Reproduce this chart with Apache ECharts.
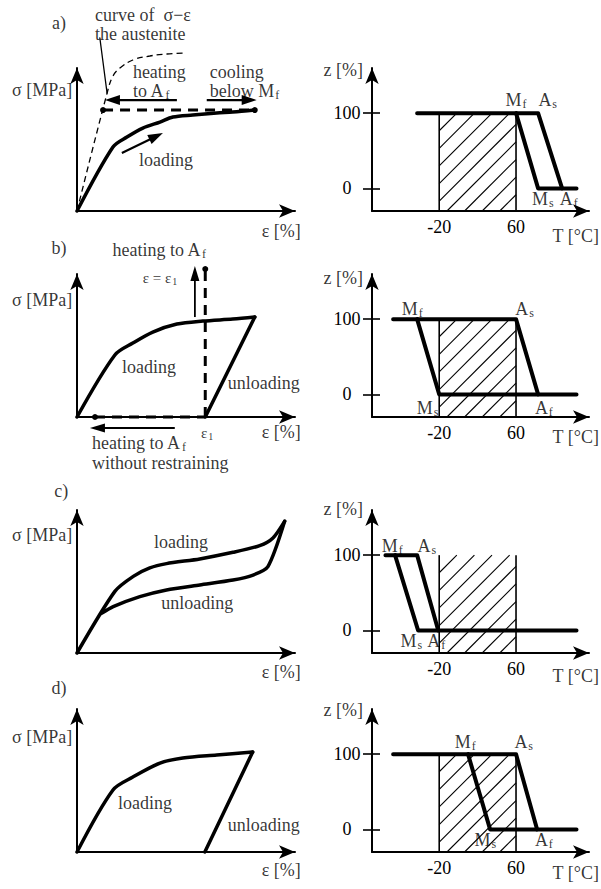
<!DOCTYPE html>
<html>
<head>
<meta charset="utf-8">
<script src="https://cdn.jsdelivr.net/npm/echarts@6/dist/echarts.min.js"></script>
<style>html,body{margin:0;padding:0;background:#fff}#c{width:601px;height:889px}</style>
</head>
<body>
<div id="c"></div>
<script>
// ===================== DATA =====================
// Left panels: strain ε (x, 0..103 arbitrary units) vs stress σ (y, 0..100 arbitrary units)
// a)
const austeniteA = [[0,0],[14.6,84.6],[17.0,94.4],[20.3,100],[26.4,105.6],[34.4,108.4],[42.5,109.8],[50.9,110.5]];
const loadingA   = [[0,0],[17.0,44.8],[23.6,51.7],[31.1,58.0],[39.2,62.2],[45.3,65.7],[54.7,67.1],[66.0,68.5],[73.6,69.2],[84.0,70.6]];
const plateauA   = [[12.3,70.6],[84.0,70.6]];
const leaderA    = [[10.8,121],[14.2,82.5]];
const arrowsA    = [[[21.2,40.6],[40.6,54.5]], [[47.2,77.6],[13.2,77.6]], [[61.3,77.6],[84.9,77.6]]];
// b)
const loadingB   = [[0,0],[17.9,43.4],[26.4,51.7],[35.8,59.4],[47.2,65.0],[59.4,67.1],[73.6,68.5],[84.0,69.9]];
const unloadingB = [[84.0,69.9],[60.6,0]];
const restrainB  = [[60.6,0],[60.6,103.5]];
const freeB      = [[8.5,0],[60.6,0]];
const arrowsB    = [[[55.7,69.9],[55.7,105.6]], [[46.2,-7.7],[6.1,-7.7]]];
// c)
const loadingC   = [[0,0],[17.9,43.1],[26.6,53.6],[34.4,59.5],[42.3,62.5],[58.0,65.8],[73.7,70.4],[86.3,75.1],[92.6,80.5],[98.1,92.1]];
const unloadingC = [[98.1,92.1],[90.2,60.4],[83.2,54.5],[73.7,51.0],[58.0,47.6],[42.3,44.1],[29.7,39.4],[17.1,32.4],[11.6,27.7]];
// d)
const loadingD   = [[0,0],[17.0,43.4],[26.4,52.4],[39.2,62.2],[50.0,65.7],[66.0,67.8],[83.0,69.9]];
const unloadingD = [[83.0,69.9],[60.4,0]];

// Right panels: temperature T [°C] vs martensite fraction z [%]
const tTicks = [-20, 60];
const zTicks = [0, 100];
const hatchT = [-20, 60];
// [start, Mf, As, Ms, Af, end] in °C
const tempsA = [-43, 60, 83, 83, 108, 123];
const tempsB = [-68, -43, 60, -20, 83, 123];
const tempsC = [-76, -66, -43, -42, -21, 123];
const tempsD = [-68, 10, 60, 33, 82, 123];

// Text annotations: [text, x, y, align, fontSize, lineHeight]
const notesA = [
  ['a)', -8.5, 131.5, 'c'],
  ['curve of  σ−ε\nthe austenite', 8.5, 130.1, 'l', 18, 19],
  ['heating\nto A{s|f}', 26.4, 90.9, 'l', 18, 19],
  ['cooling\nbelow M{s|f}', 62.7, 90.9, 'l', 18, 19],
  ['σ [MPa]', -16.5, 84.6, 'c'],
  ['loading', 42, 35.7, 'c'],
  ['ε [%]', 87.3, -14, 'l']
];
const notesB = [
  ['b)', -8.5, 118.2, 'c'],
  ['heating to A{s|f}', 38.7, 116.8, 'c'],
  ['ε = ε{t|1}', 39.2, 97.2, 'c', 15],
  ['σ [MPa]', -16.5, 81.8, 'c'],
  ['loading', 34, 35, 'c'],
  ['unloading', 71.2, 23.8, 'l'],
  ['ε{t|1}', 61.5, -11.2, 'c', 15],
  ['ε [%]', 87.3, -10.5, 'l'],
  ['heating to A{s|f}\nwithout restraining', 7.1, -25.2, 'l', 18, 20]
];
const notesC = [
  ['c)', -7.5, 113.3, 'c'],
  ['σ [MPa]', -16.5, 82.5, 'c'],
  ['loading', 49.1, 77.6, 'c'],
  ['unloading', 56.8, 35.0, 'c'],
  ['ε [%]', 87.3, -13.3, 'l']
];
const notesD = [
  ['d)', -8.5, 114.7, 'c'],
  ['σ [MPa]', -16.5, 80.4, 'c'],
  ['loading', 32.1, 34.3, 'c'],
  ['unloading', 71.2, 18.9, 'l'],
  ['ε [%]', 87.3, -12.6, 'l']
];
const notesRA = [['z [%]', -120, 157, 'c'], ['M{s|f}', 60, 117, 'c'], ['A{s|s}', 93, 117, 'c'], ['M{s|s}', 88, -14, 'c'], ['A{s|f}', 115, -14, 'c'], ['T [°C]', 98, -63, 'l']];
const notesRB = [['z [%]', -120, 155, 'c'], ['M{s|f}', -48, 113.5, 'c'], ['A{s|s}', 69, 113.5, 'c'], ['M{s|s}', -32, -18, 'c'], ['A{s|f}', 89, -18, 'c'], ['T [°C]', 98, -56, 'l']];
const notesRC = [['z [%]', -120, 161, 'c'], ['M{s|f}', -69, 112, 'c'], ['A{s|s}', -33, 112, 'c'], ['M{s|s}', -49, -14, 'c'], ['A{s|f}', -23, -14, 'c'], ['T [°C]', 98, -61, 'l']];
const notesRD = [['z [%]', -120, 159, 'c'], ['M{s|f}', 7, 116, 'c'], ['A{s|s}', 68, 116, 'c'], ['M{s|s}', 28, -14, 'c'], ['A{s|f}', 89, -14, 'c'], ['T [°C]', 98, -58, 'l']];

// ===================== LAYOUT / STYLE =====================
const FONT = "'Liberation Serif', 'DejaVu Serif', serif";
const BLACK = '#000';
const origins = [211, 417, 653, 852];
const AX_H = 143;
const Z_MIN = -30, Z_MAX = 160, T_MIN = -90, T_MAX = 136;
const rich = {
  s: {fontFamily: FONT, fontSize: 12, color: BLACK, padding: [8, 0, 0, 1]},
  t: {fontFamily: FONT, fontSize: 10, color: BLACK, padding: [6, 0, 0, 1]}
};
const axisLine = {show: true, onZero: false, symbol: ['none', 'arrow'], symbolSize: [10, 16], lineStyle: {color: BLACK, width: 2}};
const labelFont = {fontFamily: FONT, fontSize: 18, color: BLACK};

const grid = [], xAxis = [], yAxis = [], series = [];
origins.forEach(o => {
  grid.push({left: 77, top: o - AX_H, width: 218, height: AX_H});
  grid.push({left: 372, top: o - AX_H, width: 217, height: AX_H});
});
for (let g = 0; g < 8; g++) {
  const right = g % 2 === 1;
  if (!right) {
    xAxis.push({gridIndex: g, type: 'value', min: 0, max: 103, axisLine, axisTick: {show: false}, axisLabel: {show: false}, splitLine: {show: false}});
    yAxis.push({gridIndex: g, type: 'value', position: 'left', min: 0, max: 100, axisLine, axisTick: {show: false}, axisLabel: {show: false}, splitLine: {show: false}});
  } else {
    xAxis.push({gridIndex: g, type: 'value', min: T_MIN, max: T_MAX, axisLine, axisTick: {show: false},
      axisLabel: Object.assign({show: true, customValues: tTicks, margin: 7, formatter: v => String(v)}, labelFont), splitLine: {show: false}});
    yAxis.push({gridIndex: g, type: 'value', position: 'left', min: Z_MIN, max: Z_MAX, axisLine,
      axisTick: {show: true, customValues: zTicks, length: 9, lineStyle: {color: BLACK, width: 1.6}},
      axisLabel: Object.assign({show: true, customValues: zTicks, margin: 25, align: 'center', formatter: v => String(v)}, labelFont),
      splitLine: {show: false}});
  }
}
// inner half of the crossing ticks on the z axes
[1, 3, 5, 7].forEach(g => {
  yAxis.push({gridIndex: g, type: 'value', position: 'left', min: Z_MIN, max: Z_MAX, axisLine: {show: false, onZero: false},
    axisTick: {show: true, inside: true, customValues: zTicks, length: 8, lineStyle: {color: BLACK, width: 1.6}},
    axisLabel: {show: false}, splitLine: {show: false}});
});

function curve(g, data, extra) {
  return Object.assign({type: 'line', xAxisIndex: g, yAxisIndex: g, data, symbol: 'none', showSymbol: false,
    smooth: 0.3, clip: false, silent: true, z: 3,
    lineStyle: {color: BLACK, width: 3.5, cap: 'round', join: 'round'}}, extra || {});
}
function straight(g, data, width) {
  return {type: 'line', xAxisIndex: g, yAxisIndex: g, data, symbol: 'none', showSymbol: false, clip: false, silent: true, z: 3,
    lineStyle: {color: BLACK, width: width, cap: 'round', join: 'round'}};
}
function dashed(g, data, dots) {
  return {type: 'line', xAxisIndex: g, yAxisIndex: g, data, symbol: 'circle', showSymbol: true, showAllSymbol: true,
    symbolSize: (v, p) => dots.indexOf(p.dataIndex) >= 0 ? 6 : 0, itemStyle: {color: BLACK}, clip: false, silent: true, z: 3,
    lineStyle: {color: BLACK, width: 3, type: [10, 7]}};
}
function arrows(g, segs, width, headLen, headW) {
  return {type: 'custom', xAxisIndex: g, yAxisIndex: g, silent: true, z: 4, clip: false,
    data: segs.map(s => [s[0][0], s[0][1], s[1][0], s[1][1]]),
    renderItem(params, api) {
      const p = api.coord([api.value(0), api.value(1)]);
      const q = api.coord([api.value(2), api.value(3)]);
      const dx = q[0] - p[0], dy = q[1] - p[1], len = Math.sqrt(dx * dx + dy * dy);
      const ux = dx / len, uy = dy / len, nx = -uy, ny = ux;
      const bx = q[0] - ux * headLen, by = q[1] - uy * headLen;
      return {type: 'group', children: [
        {type: 'line', shape: {x1: p[0], y1: p[1], x2: bx + ux * 2, y2: by + uy * 2}, style: {stroke: BLACK, lineWidth: width, fill: null}},
        {type: 'polygon', shape: {points: [[q[0], q[1]], [bx + nx * headW / 2, by + ny * headW / 2], [bx - nx * headW / 2, by - ny * headW / 2]]},
          style: {fill: BLACK, stroke: null}}
      ]};
    }};
}
function notes(g, yi, arr) {
  return {type: 'scatter', xAxisIndex: g, yAxisIndex: yi, silent: true, clip: false, symbolSize: 1,
    itemStyle: {color: 'rgba(0,0,0,0)'}, z: 6,
    data: arr.map(n => ({value: [n[1], n[2]], label: {show: true, position: 'inside', formatter: () => n[0],
      align: n[3] === 'l' ? 'left' : 'center', verticalAlign: 'middle',
      fontFamily: FONT, fontSize: n[4] || 18, lineHeight: n[5] || 18, color: BLACK, rich}}))};
}
function hatch(g) {
  return {type: 'custom', xAxisIndex: g, yAxisIndex: g, silent: true, z: 1,
    data: [[hatchT[0], hatchT[1], zTicks[1]]],
    renderItem(params, api) {
      const tl = api.coord([api.value(0), api.value(2)]);
      const br = api.coord([api.value(1), Z_MIN]);
      const x0 = tl[0], y0 = tl[1], x1 = br[0], y1 = br[1];
      const border = {stroke: BLACK, lineWidth: 1.6, fill: null};
      const thin = {stroke: BLACK, lineWidth: 1.1, fill: null};
      const children = [
        {type: 'line', shape: {x1: x0, y1: y0, x2: x0, y2: y1}, style: border},
        {type: 'line', shape: {x1: x1, y1: y0, x2: x1, y2: y1}, style: border}
      ];
      const step = 17.6;
      for (let c = x0 + y0 + step; c < x1 + y1; c += step) {
        const xa = Math.max(x0, c - y1), xb = Math.min(x1, c - y0);
        if (xb - xa > 0.5) children.push({type: 'line', shape: {x1: xa, y1: c - xa, x2: xb, y2: c - xb}, style: thin});
      }
      return {type: 'group', children};
    }};
}
function transform(g, t) {
  // t = [start, Mf, As, Ms, Af, end]
  const heat = [[t[0], zTicks[1]], [t[2], zTicks[1]], [t[4], zTicks[0]]];
  const cool = [[t[1], zTicks[1]], [t[3], zTicks[0]], [t[5], zTicks[0]]];
  return [straight(g, heat, 4), straight(g, cool, 4)];
}

// ---- panel a ----
series.push(Object.assign(curve(0, austeniteA, {smooth: 0.4}), {lineStyle: {color: BLACK, width: 1.3, type: [6, 4]}}));
series.push(curve(0, loadingA));
series.push(dashed(0, plateauA, [0, 1]));
series.push(straight(0, leaderA, 1.3));
series.push(arrows(0, arrowsA, 2.2, 15, 10));
series.push(notes(0, 0, notesA));
// ---- panel b ----
series.push(curve(2, loadingB));
series.push(straight(2, unloadingB, 3.5));
series.push(dashed(2, restrainB, [1]));
series.push(dashed(2, freeB, [0]));
series.push(arrows(2, arrowsB, 1.8, 15, 9));
series.push(notes(2, 2, notesB));
// ---- panel c ----
series.push(curve(4, loadingC, {smooth: 0.25}));
series.push(curve(4, unloadingC, {smooth: 0.25}));
series.push(notes(4, 4, notesC));
// ---- panel d ----
series.push(curve(6, loadingD));
series.push(straight(6, unloadingD, 3.5));
series.push(notes(6, 6, notesD));
// ---- right panels ----
[[1, tempsA, notesRA], [3, tempsB, notesRB], [5, tempsC, notesRC], [7, tempsD, notesRD]].forEach(([g, t, n]) => {
  series.push(hatch(g));
  transform(g, t).forEach(s => series.push(s));
  series.push(notes(g, g, n));
});

const chart = echarts.init(document.getElementById('c'), null, {renderer: 'svg', width: 601, height: 889});
chart.setOption({animation: false, backgroundColor: '#fff', grid, xAxis, yAxis, series});
</script>
</body>
</html>
